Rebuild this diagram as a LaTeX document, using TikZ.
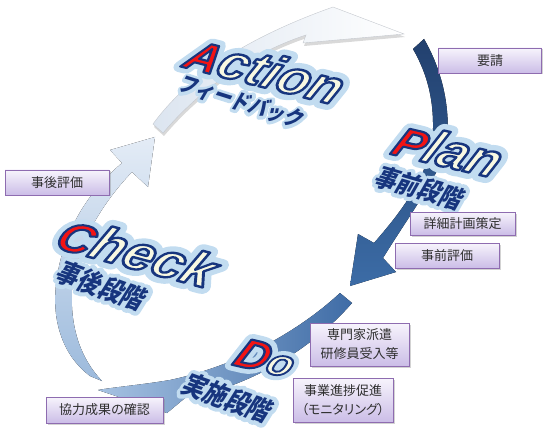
\documentclass[tikz,border=0pt]{standalone}
\usepackage{fontspec}
\usetikzlibrary{shadows}

\newfontfamily\stagefont{Liberation Sans}
\newfontfamily\jpfont{Noto Sans CJK JP}
\newfontfamily\boxfont{Noto Sans CJK JP}[RawFeature=+palt]

\definecolor{plantop}{HTML}{22406E}
\definecolor{planbottom}{HTML}{3C6CA6}
\definecolor{doright}{HTML}{3F6CA6}
\definecolor{doleft}{HTML}{A6C2E2}
\definecolor{checktop}{HTML}{E4ECF6}
\definecolor{checkbottom}{HTML}{9CBADC}
\definecolor{actionleft}{HTML}{DCE5F0}
\definecolor{actionedge}{HTML}{C4C8CE}
\definecolor{initred}{HTML}{F21414}
\definecolor{cream}{HTML}{F8F8E2}
\definecolor{wordnavy}{HTML}{17357E}
\definecolor{glowblue}{HTML}{C2DCF0}
\definecolor{boxtop}{HTML}{F7F4FC}
\definecolor{boxbottom}{HTML}{CBBDE7}
\definecolor{boxedge}{HTML}{8E6CB0}
\definecolor{boxtext}{HTML}{2E2E2E}

% navy stroke colour and round joins for outlined letters
\newcommand{\navystroke}{\special{pdf:literal direct 0.090 0.208 0.494 RG}}
\newcommand{\roundjoin}{\special{pdf:literal direct 1 j 1 J}}
% big stage word: red initial, cream rest, navy outline, light glow
\newcommand{\initfont}{\fontsize{40}{40}\selectfont}
\newcommand{\restfont}{\fontsize{46}{46}\selectfont}
\newcommand{\stageword}[2]{%
  \rlap{\color{glowblue}\roundjoin{\initfont\addfontfeature{FakeBold=28}#1}{\restfont\addfontfeature{FakeBold=28}#2}}%
  {\initfont\addfontfeature{FakeBold=5}\color{initred}\navystroke #1}%
  {\restfont\addfontfeature{FakeBold=5}\color{cream}\navystroke #2}}
% japanese stage name with glow
\newcommand{\stagename}[1]{%
  \rlap{\addfontfeature{FakeBold=30}\color{glowblue}\roundjoin #1}%
  {\color{wordnavy}#1}}

\tikzset{
  taskbox/.style={draw=boxedge, line width=0.8pt, top color=boxtop,
    bottom color=boxbottom, inner sep=0pt, align=center, text=boxtext,
    font=\boxfont\fontsize{13}{19}\selectfont,
    drop shadow={shadow xshift=1.5pt, shadow yshift=-1.5pt, opacity=0.35}},
  stageword/.style={font=\stagefont\bfseries\itshape, inner sep=0pt,
    xslant=0.2, xscale=1.2},
  stagename/.style={font=\jpfont\bfseries, inner sep=0pt, xslant=0.3}
}

\begin{document}
\begin{tikzpicture}[x=1pt,y=-1pt]
    \useasboundingbox (0,0) rectangle (545,430);

    % action arrow (top)
    \draw[draw=actionedge, line width=0.4pt, left color=actionleft, right color=white,
          drop shadow={shadow xshift=1pt, shadow yshift=-3pt, opacity=0.3}]
        (153,124) .. controls (185,80) and (240,40) .. (333,7) -- (404,34)
        -- (303,43) -- (306,35) .. controls (245,55) and (195,95) .. (163,133) -- cycle;

    % check arrow (left)
    \fill[top color=checktop, bottom color=checkbottom]
        (90,376) .. controls (62,355) and (52,320) .. (56,285)
        .. controls (62,230) and (90,190) .. (122,163) -- (110,150) -- (155,137)
        -- (148,187) -- (132,172) .. controls (105,200) and (75,245) .. (72,290)
        .. controls (70,330) and (82,360) .. (102,381) -- cycle;

    % do arrow (bottom)
    \fill[left color=doleft, right color=doright]
        (340,293) .. controls (300,330) and (240,365) .. (170,380)
        .. controls (140,385) and (115,387) .. (98,390) -- (167,413) -- (185,398)
        .. controls (260,385) and (320,340) .. (352,303) -- cycle;

    % plan arrow (right)
    \fill[top color=plantop, bottom color=planbottom]
        (424,39) .. controls (442,70) and (452,110) .. (446,150)
        .. controls (436,180) and (405,222) .. (383,258) -- (396,272) -- (350,286)
        -- (358,234) -- (374,243) .. controls (392,222) and (422,188) .. (432,145)
        .. controls (436,105) and (428,75) .. (413,49) -- cycle;

    % stage words
    \node[stageword, rotate=-16] (action) at (266,70) {\stageword{A}{ction}};
    \node[stagename, rotate=-16, font=\jpfont\bfseries\fontsize{20}{20}\selectfont]
        (feedback) at (242,102) {\stagename{フィードバック}};
    \node[stageword, rotate=-15] (plan) at (449,150) {\stageword{P}{lan}};
    \node[stagename, rotate=-15, font=\jpfont\bfseries\fontsize{24}{24}\selectfont]
        (before) at (420,188) {\stagename{事前段階}};
    \node[stageword, rotate=-17, xscale=1.05] (check) at (138,252) {\stageword{C}{heck}};
    \node[stagename, rotate=-18, font=\jpfont\bfseries\fontsize{25}{25}\selectfont]
        (after) at (102,286) {\stagename{事後段階}};
    \node[stageword, rotate=-15] (do) at (266,358) {\stageword{D}{\fontsize{36}{36}\selectfont o}};
    \node[stagename, rotate=-18, font=\jpfont\bfseries\fontsize{25}{25}\selectfont]
        (during) at (228,398) {\stagename{実施段階}};

    % task boxes
    \node[taskbox, minimum width=103pt, minimum height=25pt] (request) at (490,60.5) {要請};
    \node[taskbox, minimum width=105pt, minimum height=23pt] (detail) at (462.5,223.5) {詳細計画策定};
    \node[taskbox, minimum width=104pt, minimum height=25pt] (preeval) at (447,255.5) {事前評価};
    \node[taskbox, minimum width=104pt, minimum height=25pt] (posteval) at (57,182.5) {事後評価};
    \node[taskbox, minimum width=99pt, minimum height=43pt] (expert) at (359.5,344.5) {専門家派遣\\研修員受入等};
    \node[taskbox, minimum width=100pt, minimum height=44pt] (monitor) at (343,400) {事業進捗促進\\（モニタリング）};
    \node[taskbox, minimum width=117pt, minimum height=26pt] (confirm) at (104.5,410) {協力成果の確認};
\end{tikzpicture}
\end{document}
